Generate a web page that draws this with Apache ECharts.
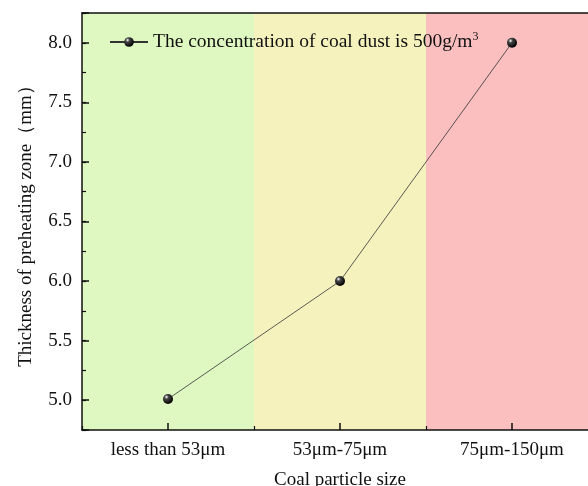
<!DOCTYPE html>
<html><head><meta charset="utf-8">
<script src="https://cdn.jsdelivr.net/npm/echarts@6/dist/echarts.min.js"></script>
<style>html,body{margin:0;padding:0;background:#fff}#c{width:588px;height:486px}</style>
</head><body><div id="c"></div>
<script>
const categories = ['less than 53\u03bcm', '53\u03bcm-75\u03bcm', '75\u03bcm-150\u03bcm'];
const thickness = [5.01, 6.0, 8.0];
const bandColors = ['#DFF7C1', '#F5F2BE', '#FBBFBF'];
const yMin = 4.75, yMax = 8.25;
const seriesName = 'The concentration of coal dust is 500g/m';

const FONT = 'Liberation Serif';
const FS = 19;
const chart = echarts.init(document.getElementById('c'), null, {renderer: 'canvas'});
const common = {min: yMin, max: yMax};
chart.setOption({
  animation: false,
  textStyle: {fontFamily: FONT},
  grid: {left: 82, width: 516, top: 13, height: 417, outerBoundsMode: 'none', containLabel: false},
  legend: {
    data: [seriesName],
    left: 104, top: 26,
    itemWidth: 38, itemHeight: 12, itemGap: 10,
    formatter: n => '{a|' + n + '}{s|3}',
    textStyle: {
      fontFamily: FONT, color: '#111',
      rich: {
        a: {fontFamily: FONT, fontSize: 19.5, color: '#111'},
        s: {fontFamily: FONT, fontSize: 12, color: '#111', verticalAlign: 'bottom', padding: [0, 0, 10, 0]}
      }
    }
  },
  xAxis: [
    {type: 'category', data: categories, position: 'bottom',
     name: 'Coal particle size', nameLocation: 'middle', nameGap: 41,
     nameTextStyle: {fontFamily: FONT, fontSize: FS, color: '#111'},
     axisLine: {show: true, lineStyle: {color: '#111', width: 1.5}},
     axisTick: {show: true, inside: true, alignWithLabel: true, length: 7, lineStyle: {color: '#111', width: 1.5}},
     axisLabel: {fontFamily: FONT, fontSize: FS, color: '#111', margin: 11},
     splitLine: {show: false}, z: 10},
    {type: 'category', data: categories, position: 'bottom',
     axisLine: {show: false},
     axisTick: {show: true, inside: true, length: 4, lineStyle: {color: '#111', width: 1.2}},
     axisLabel: {show: false}, splitLine: {show: false}, z: 10},
    {type: 'category', data: categories, position: 'top',
     axisLine: {show: true, lineStyle: {color: '#111', width: 1.5}},
     axisTick: {show: false}, axisLabel: {show: false}, splitLine: {show: false}, z: 10}
  ],
  yAxis: [
    Object.assign({type: 'value', position: 'left', interval: 0.25,
     name: 'Thickness of preheating zone\uff08mm\uff09', nameLocation: 'middle', nameGap: 46, nameRotate: 90,
     nameTextStyle: {fontFamily: FONT, fontSize: FS, color: '#111'},
     axisLine: {show: true, lineStyle: {color: '#111', width: 1.5}},
     axisTick: {show: true, inside: true, length: 4, lineStyle: {color: '#111', width: 1.2}},
     axisLabel: {fontFamily: FONT, fontSize: FS, color: '#111', margin: 10,
       formatter: v => (Math.abs(v * 2 - Math.round(v * 2)) < 1e-6 ? v.toFixed(1) : '')},
     splitLine: {show: false}, z: 10}, common),
    Object.assign({type: 'value', position: 'left', splitNumber: 7,
     axisLine: {show: false},
     axisTick: {show: true, inside: true, length: 7, lineStyle: {color: '#111', width: 1.5}},
     axisLabel: {show: false}, splitLine: {show: false}, z: 10}, common)
  ],
  series: [
    {type: 'bar', xAxisIndex: 0, yAxisIndex: 0, silent: true, barWidth: '100%', barGap: '-100%',
     clip: true, z: -1,
     data: categories.map((c, i) => ({value: yMax, itemStyle: {color: bandColors[i]}}))},
    {name: seriesName, type: 'line', xAxisIndex: 0, yAxisIndex: 0, data: thickness, z: 3,
     lineStyle: {color: '#333', width: 0.8},
     symbol: 'circle', symbolSize: 10,
     itemStyle: {color: {type: 'radial', x: 0.35, y: 0.3, r: 0.7,
       colorStops: [{offset: 0, color: '#ffffff'}, {offset: 0.3, color: '#444'}, {offset: 1, color: '#000'}]},
       borderWidth: 0}}
  ]
});
</script></body></html>
